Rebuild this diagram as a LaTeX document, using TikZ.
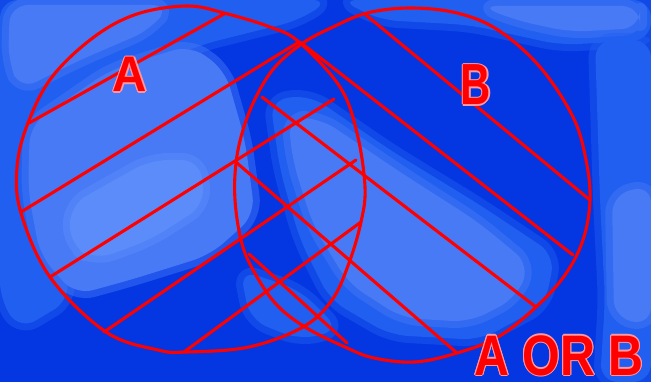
\documentclass[tikz,border=0pt]{standalone}
\usepackage{fontspec}
\setmainfont{Liberation Sans}
\definecolor{bgdark}{RGB}{4,55,226}
\definecolor{bgmid}{RGB}{32,95,240}
\definecolor{bglight}{RGB}{72,122,246}
\definecolor{bglighter}{RGB}{92,140,250}
\definecolor{halo}{RGB}{255,150,160}
\tikzset{
  patch/.style={fill=#1, draw=#1, line width=14pt, line join=round, rounded corners=18pt, draw opacity=0.45},
  redline/.style={draw=red, line width=3.1pt, line cap=round, line join=round},
  lettr/.style={inner sep=0pt, anchor=base, font=\bfseries}
}
\newcommand{\halotext}[4]{%
  \foreach \dx/\dy in {-1.2/0,1.2/0,0/-1.2,0/1.2,-0.9/-0.9,0.9/0.9,-0.9/0.9,0.9/-0.9}{%
    \node[lettr, text=halo, xscale=#3, font=\bfseries\fontsize{#2}{#2}\selectfont] at ($(#1)+(\dx,\dy)$) {#4};}%
  \node[lettr, text=red, xscale=#3, font=\bfseries\fontsize{#2}{#2}\selectfont] at (#1) {#4};}
\usetikzlibrary{calc}
\begin{document}
\begin{tikzpicture}[x=1pt,y=-1pt]
\useasboundingbox (0,0) rectangle (651,382);
\fill[bgdark] (0,0) rectangle (651,382);
% background patches
\path[patch=bgmid] (0,0) -- (330,0) -- (300,20) -- (200,45) -- (120,80) -- (40,140) -- (0,170) -- cycle;
\path[patch=bgmid] (0,140) -- (40,120) -- (60,230) -- (70,300) -- (20,330) -- (0,300) -- cycle;
\path[patch=bglight] (10,5) -- (170,5) -- (150,30) -- (80,60) -- (20,90) -- (8,60) -- cycle;
\path[patch=bglight] (30,125) -- (110,70) -- (190,45) -- (225,70) -- (245,140) -- (255,215) -- (210,255) -- (130,280) -- (75,295) -- (40,255) -- (28,190) -- cycle;
\path[patch=bglighter] (70,205) -- (150,160) -- (200,160) -- (205,205) -- (150,240) -- (95,260) -- (70,245) -- cycle;
\path[patch=bgmid] (340,0) -- (651,0) -- (651,40) -- (560,45) -- (470,25) -- (380,20) -- cycle;
\path[patch=bglight] (480,6) -- (640,6) -- (640,28) -- (570,32) -- (515,20) -- cycle;
\path[patch=bgmid] (270,100) -- (310,95) -- (390,150) -- (480,205) -- (555,255) -- (545,305) -- (480,340) -- (390,335) -- (330,300) -- (300,240) -- (280,170) -- cycle;
\path[patch=bglight] (288,118) -- (320,118) -- (400,172) -- (478,222) -- (530,265) -- (516,298) -- (470,322) -- (402,318) -- (348,283) -- (313,225) -- (293,162) -- cycle;
\path[patch=bgmid] (595,40) -- (651,40) -- (651,382) -- (600,382) -- (605,300) -- (600,200) -- cycle;
\path[patch=bglight] (612,195) -- (651,185) -- (651,325) -- (614,318) -- cycle;
\path[patch=bgmid] (240,270) -- (300,290) -- (340,330) -- (300,340) -- (250,320) -- cycle;
% circles
\draw[redline] plot[smooth cycle, tension=0.6] coordinates {(187,6) (224,13) (270,27) (299,42) (340,87) (357,133) (365,187) (361,222) (349,263) (332,300) (303,327) (249,347) (187,352) (158,350) (106,332) (50,277) (21,213) (17,167) (28,123) (52,77) (94,37) (137,14)};
\draw[redline] plot[smooth cycle, tension=0.6] coordinates {(303,43) (333,27) (367,13) (410,8) (457,13) (498,30) (540,67) (573,117) (586,160) (590,200) (583,240) (565,275) (536,307) (498,337) (457,353) (415,362) (374,358) (345,347) (305,327) (275,303) (252,268) (241,240) (235,200) (236,163) (243,130) (256,97) (275,67)};
% hatching in A
\coordinate (a1s) at (29,123);  \coordinate (a1e) at (224,14);
\coordinate (a2s) at (21,212);  \coordinate (a2e) at (299,42);
\coordinate (a3s) at (50,277);  \coordinate (a3e) at (334,99);
\coordinate (a4s) at (104,332); \coordinate (a4e) at (356,160);
\coordinate (a5s) at (184,352); \coordinate (a5e) at (361,222);
\foreach \k in {1,...,5}{\draw[redline] (a\k s) -- (a\k e);}
% hatching in B
\coordinate (b1s) at (366,15);  \coordinate (b1e) at (590,200);
\coordinate (b2s) at (300,42);  \coordinate (b2e) at (573,255);
\coordinate (b3s) at (262,97);  \coordinate (b3e) at (536,307);
\coordinate (b4s) at (237,163); \coordinate (b4e) at (457,353);
\coordinate (b5s) at (249,254); \coordinate (b5e) at (347,343);
\foreach \k in {1,...,5}{\draw[redline] (b\k s) -- (b\k e);}
% labels
\coordinate (la) at (130,92);
\coordinate (lb) at (476,105);
\coordinate (lab) at (559,375);
\halotext{la}{50}{0.95}{A}
\halotext{lb}{58}{0.72}{B}
\halotext{lab}{57}{0.85}{A OR B}
\end{tikzpicture}
\end{document}
